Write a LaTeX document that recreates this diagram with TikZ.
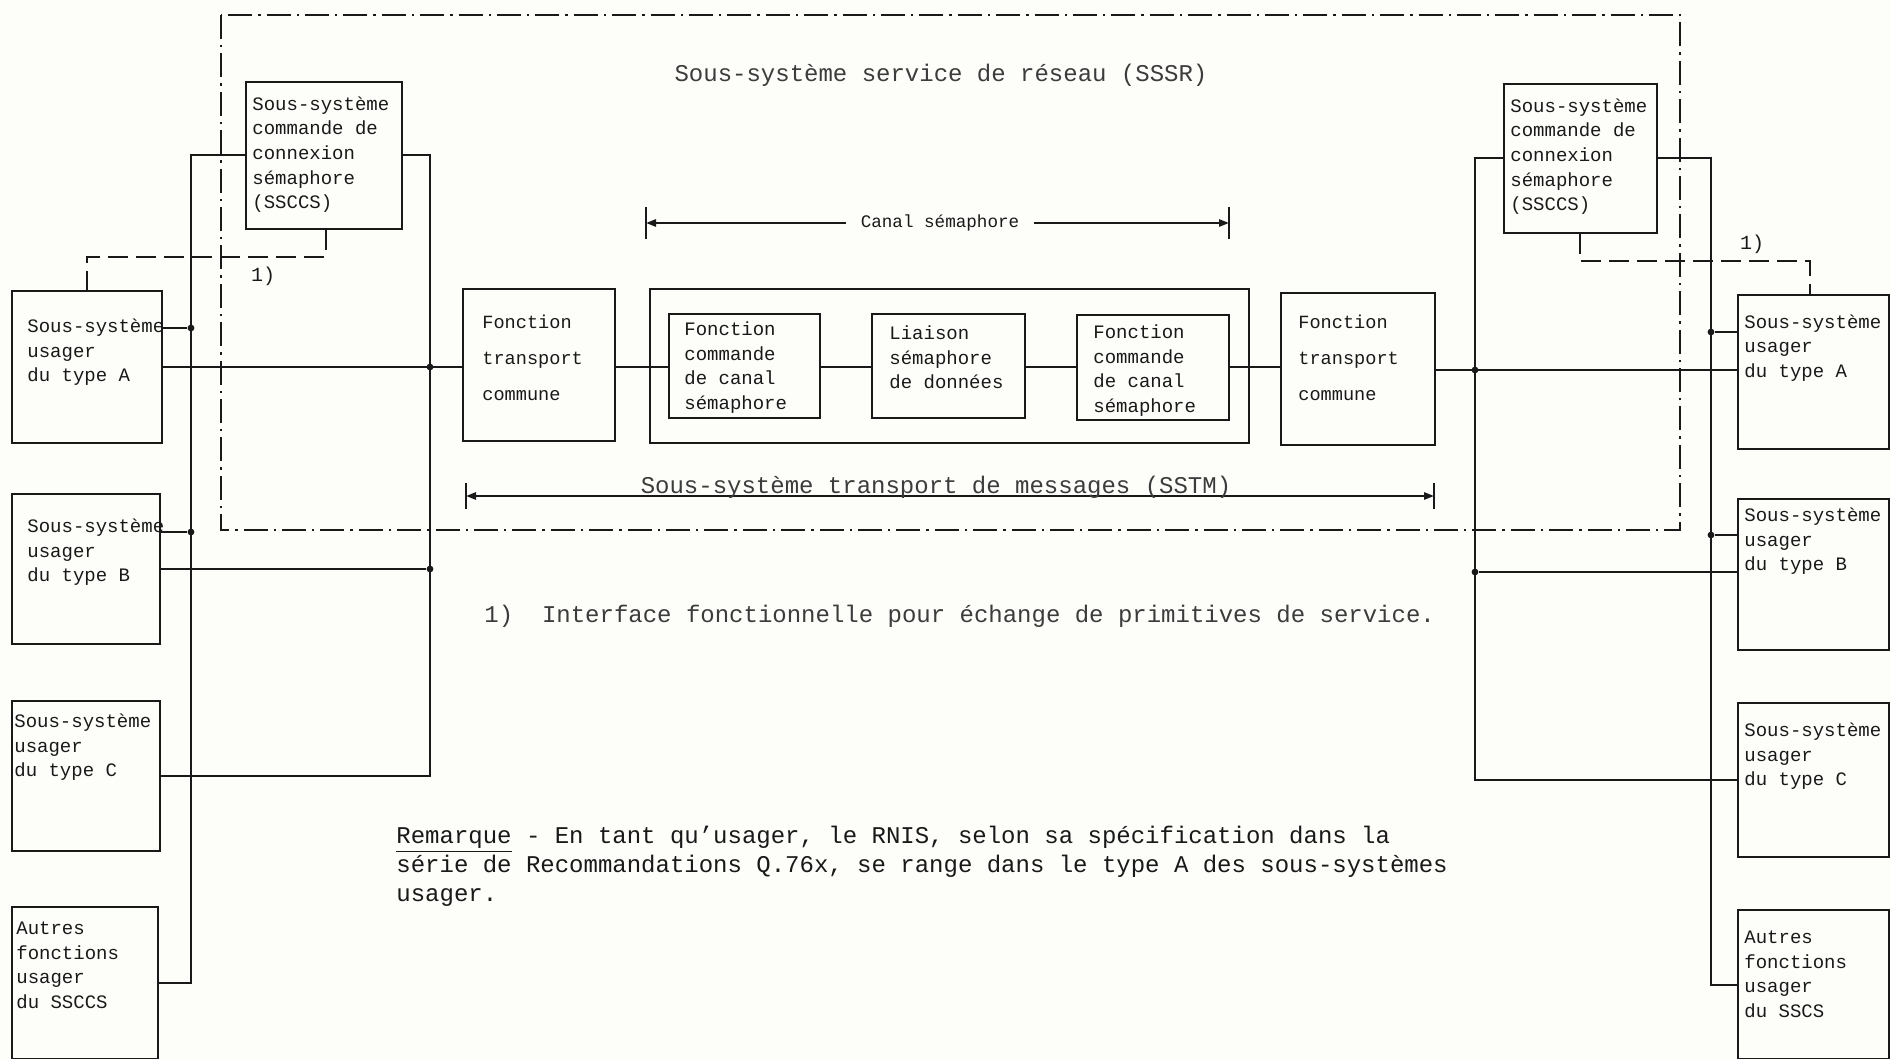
\documentclass[tikz,border=0pt]{standalone}
\usepackage{fontspec}
\setmainfont{Liberation Mono}
\setmonofont{Liberation Mono}
\usetikzlibrary{arrows.meta,fit,calc}
\definecolor{paper}{RGB}{253,253,250}
\definecolor{ink}{RGB}{25,25,25}
\definecolor{faint}{RGB}{60,60,60}
\begin{document}
\begin{tikzpicture}[x=0.5pt,y=-0.5pt,
  box/.style={draw=ink, line width=1.2pt, inner sep=0pt},
  wire/.style={draw=ink, line width=1pt},
  dd/.style={draw=ink, line width=1pt, dash pattern=on 12pt off 3pt on 1.2pt off 3pt},
  dsh/.style={draw=ink, line width=1pt, dash pattern=on 10pt off 4pt},
  btxt/.style={inner sep=0pt, anchor=north west, align=left, text=ink, font=\fontsize{9.5}{12.3}\selectfont, yshift=8.61pt},
  ftxt/.style={inner sep=0pt, anchor=north west, align=left, text=ink, font=\fontsize{9.3}{18}\selectfont, yshift=12.6pt},
  big/.style={inner sep=0pt, text=faint, font=\fontsize{12}{14.5}\selectfont},
  lab/.style={inner sep=0pt, text=ink, font=\fontsize{10}{12}\selectfont},
  dot/.style={fill=ink, circle, inner sep=0pt, minimum size=3.4pt},
  tip/.style={-{Triangle[length=5pt,width=3.6pt]}},
]
\fill[paper] (0,0) rectangle (1891,1059);
\useasboundingbox (0,0) rectangle (1891,1059);

% network service subsystem boundary
\draw[dd] (221,15) rectangle (1680,530);
\node[big, anchor=base] (title) at (941,82) {Sous-système service de réseau (SSSR)};

% ---- boxes left
\node[box, fit={(246,82) (402,229)}] (SSL) {};
\node[box, fit={(12,291) (162,443)}] (BAL) {};
\node[box, fit={(12,494) (160,644)}] (BBL) {};
\node[box, fit={(12,701) (160,851)}] (BCL) {};
\node[box, fit={(12,907) (158,1059)}] (AUL) {};
% ---- centre
\node[box, fit={(463,289) (615,441)}] (FTL) {};
\node[box, fit={(650,289) (1249,443)}] (CAN) {};
\node[box, fit={(669,314) (820,418)}] (FCL) {};
\node[box, fit={(872,314) (1025,418)}] (LI) {};
\node[box, fit={(1077,315) (1229,420)}] (FCR) {};
\node[box, fit={(1281,293) (1435,445)}] (FTR) {};
% ---- boxes right
\node[box, fit={(1504,84) (1657,233)}] (SSR) {};
\node[box, fit={(1738,295) (1889,449)}] (BAR) {};
\node[box, fit={(1738,499) (1889,650)}] (BBR) {};
\node[box, fit={(1738,703) (1889,857)}] (BCR) {};
\node[box, fit={(1738,910) (1889,1059)}] (AUR) {};

% ---- texts
\node[btxt] (tSSL) at (252,110) {\strut Sous-système\\commande de\\connexion\\sémaphore\\(SSCCS)};
\node[btxt] (tBAL) at (27,332) {\strut Sous-système\\usager\\du type A};
\node[btxt] (tBBL) at (27,532) {\strut Sous-système\\usager\\du type B};
\node[btxt] (tBCL) at (14,727) {\strut Sous-système\\usager\\du type C};
\node[btxt] (tAUL) at (16,934) {\strut Autres\\fonctions\\usager\\du SSCCS};
\node[ftxt] (tFTL) at (482,328) {\strut Fonction\\transport\\commune};
\node[btxt] (tFCL) at (684,335) {\strut Fonction\\commande\\de canal\\sémaphore};
\node[btxt] (tLI) at (889,339) {\strut Liaison\\sémaphore\\de données};
\node[btxt] (tFCR) at (1093,338) {\strut Fonction\\commande\\de canal\\sémaphore};
\node[ftxt] (tFTR) at (1298,328) {\strut Fonction\\transport\\commune};
\node[btxt] (tSSR) at (1510,112) {\strut Sous-système\\commande de\\connexion\\sémaphore\\(SSCCS)};
\node[btxt] (tBAR) at (1744,328) {\strut Sous-système\\usager\\du type A};
\node[btxt] (tBBR) at (1744,521) {\strut Sous-système\\usager\\du type B};
\node[btxt] (tBCR) at (1744,736) {\strut Sous-système\\usager\\du type C};
\node[btxt] (tAUR) at (1744,943) {\strut Autres\\fonctions\\usager\\du SSCS};

% ---- left buses
\coordinate (LbT) at (191,155.5);
\coordinate (LbB) at (191,983);
\coordinate (LiT) at (430,155.5);
\coordinate (LiB) at (430,776);
\draw[wire] (SSL.west) -- (LbT) -- (LbB) -- (AUL.east);
\draw[wire] (SSL.east) -- (LiT) -- (LiB) -- (BCL.east);
\node[dot] (d1) at (191,328) {};
\node[dot] (d2) at (430,367) {};
\node[dot] (d3) at (191,532) {};
\node[dot] (d4) at (430,569) {};
\draw[wire] (d1) -- (d1 -| BAL.east);
\draw[wire] (BAL.east) -- (BAL.east -| FTL.west);
\draw[wire] (d3) -- (d3 -| BBL.east);
\draw[wire] (d4) -- (d4 -| BBL.east);

% ---- centre chain
\coordinate (yM) at (0,367);
\coordinate (yR) at (0,370);
\draw[wire] (FTL.east |- yM) -- (FCL.west |- yM);
\draw[wire] (FCL.east |- yM) -- (LI.west |- yM);
\draw[wire] (LI.east |- yM) -- (FCR.west |- yM);
\draw[wire] (FCR.east |- yM) -- (FTR.west |- yM);
\draw[wire] (FTR.east |- yR) -- (BAR.west |- yR);

% ---- right buses
\coordinate (RbT) at (1711,158.5);
\coordinate (RbB) at (1711,984.5);
\coordinate (RiT) at (1475,158.5);
\coordinate (RiB) at (1475,780);
\draw[wire] (SSR.east) -- (RbT) -- (RbB) -- (AUR.west);
\draw[wire] (SSR.west) -- (RiT) -- (RiB) -- (BCR.west);
\node[dot] (d5) at (1711,332) {};
\node[dot] (d6) at (1475,370) {};
\node[dot] (d7) at (1711,535) {};
\node[dot] (d8) at (1475,572) {};
\draw[wire] (d5) -- (d5 -| BAR.west);
\draw[wire] (d7) -- (d7 -| BBR.west);
\draw[wire] (d8) -- (d8 -| BBR.west);

% ---- dashed interfaces
\draw[dsh] ($(SSL.south west)+(81,0)$) |- ($(BAL.north west)+(76,-33)$) -- ($(BAL.north west)+(76,0)$);
\draw[dsh] ($(SSR.south west)+(77,0)$) |- ($(BAR.north west)+(73,-33)$) -- ($(BAR.north west)+(73,0)$);
\node[lab] (n1L) at (263,276) {1)};
\node[lab] (n1R) at (1752,244) {1)};

% ---- Canal semaphore dimension
\coordinate (c1) at (646,223);
\coordinate (c2) at (1229,223);
\draw[wire] ($(c1)+(0,-16)$) -- ($(c1)+(0,16)$);
\draw[wire] ($(c2)+(0,-16)$) -- ($(c2)+(0,16)$);
\node[inner xsep=7pt, inner ysep=0pt, text=ink, font=\fontsize{8.8}{10}\selectfont] (canal) at (940,223) {Canal sémaphore};
\draw[wire, tip] (canal.west) -- (c1);
\draw[wire, tip] (canal.east) -- (c2);

% ---- SSTM dimension
\coordinate (s1) at (466,496);
\coordinate (s2) at (1434,496);
\draw[wire] ($(s1)+(0,-13)$) -- ($(s1)+(0,13)$);
\draw[wire] ($(s2)+(0,-13)$) -- ($(s2)+(0,13)$);
\draw[wire, {Triangle[length=5pt,width=3.6pt]}-{Triangle[length=5pt,width=3.6pt]}] (s1) -- (s2);
\node[big, anchor=base] (sstm) at (936,493) {Sous-système transport de messages (SSTM)};

% ---- notes
\node[big, anchor=base west] (fn) at (484,622) {1)\ \ Interface fonctionnelle pour échange de primitives de service.};
\node[big, anchor=north west, align=left, yshift=10.15pt, text=ink] (rem) at (396,843) {\strut\underline{Remarque} - En tant qu'usager, le RNIS, selon sa spécification dans la\\série de Recommandations Q.76x, se range dans le type A des sous-systèmes\\usager.};
\end{tikzpicture}
\end{document}
